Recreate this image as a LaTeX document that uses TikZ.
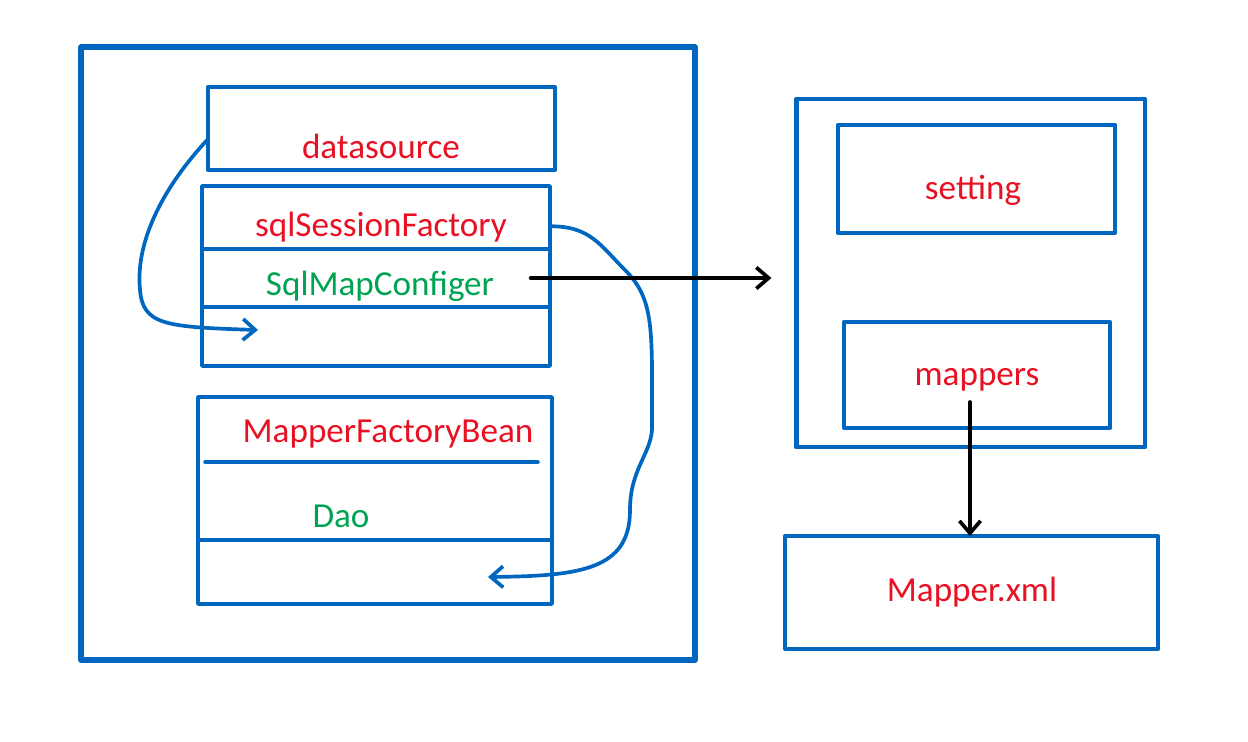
\documentclass[tikz,border=0pt]{standalone}
\usepackage{fontspec}
\setmainfont{Carlito}
\usetikzlibrary{positioning,arrows.meta}

\definecolor{msblue}{RGB}{0,103,192}
\definecolor{msred}{RGB}{232,17,35}
\definecolor{msgreen}{RGB}{0,163,82}

\tikzset{
  box/.style={draw=msblue, line width=2.4pt, inner sep=0pt, outer sep=0pt,
              line join=round},
  rowbox/.style={box, line width=2.1pt, minimum width=6.96cm},
  redtxt/.style={msred, font=\fontsize{20}{24}\selectfont},
  greentxt/.style={msgreen, font=\fontsize{20}{24}\selectfont},
  flow/.style={->, msblue, line width=2.1pt},
  call/.style={->, black, line width=2.1pt}
}

\begin{document}
\begin{tikzpicture}[>={Straight Barb[length=7pt,width=12pt]}, x=0.02cm, y=-0.02cm,
                    line cap=round]
\useasboundingbox (0,0) rectangle (1248,741);

% spring container
\node[box, line width=3.4pt, minimum width=12.28cm, minimum height=12.26cm] (spring) at (388,353.5) {};
\node[box, minimum width=6.94cm, minimum height=1.66cm] (ds) at (381.5,128.5) {};
\node[redtxt] (dslbl) at (381,146) {datasource};

% sqlSessionFactory
\node[rowbox, minimum height=1.26cm] (sf) at (376,217.5) {};
\node[rowbox, minimum height=1.16cm, below=0pt of sf] (smc) {};
\node[rowbox, minimum height=1.18cm, below=0pt of smc] (sfx) {};
\node[redtxt] (sflbl) at (381,227) {sqlSessionFactory};
\node[greentxt] (smclbl) at (380,286) {SqlMapConfiger};

% MapperFactoryBean
\node[box, line width=2.1pt, minimum width=7.08cm, minimum height=4.14cm] (mfb) at (375,500.5) {};
\node[minimum width=7.08cm, minimum height=1.3cm, inner sep=0pt, outer sep=0pt,
      below=0pt of mfb.north] (mfbhead) {};
\node[minimum width=7.08cm, minimum height=1.28cm, inner sep=0pt, outer sep=0pt,
      above=0pt of mfb.south] (mfbx) {};
\draw[msblue, line width=2.1pt] ([xshift=4pt]mfbhead.south west) -- ([xshift=-8pt]mfbhead.south east);
\draw[msblue, line width=2.1pt] (mfbx.north west) -- (mfbx.north east);
\node[redtxt] (mfblbl) at (388,434) {MapperFactoryBean};
\node[greentxt] (daolbl) at (341,516) {Dao};

% configuration
\node[box, line width=2.8pt, minimum width=6.98cm, minimum height=6.96cm] (cfg) at (970.5,273) {};
\node[box, minimum width=5.54cm, minimum height=2.16cm] (set) at (976.5,179) {};
\node[redtxt] (setlbl) at (973,190) {setting};
\node[box, minimum width=5.32cm, minimum height=2.12cm] (mp) at (977,375) {};
\node[redtxt] (mplbl) at (977,380) {mappers};

% Mapper.xml
\node[box, minimum width=7.46cm, minimum height=2.26cm] (mx) at (971.5,592.5) {};
\node[redtxt] (mxlbl) at (972,592) {Mapper.xml};

% free ends
\coordinate (dsin) at (258,330);
\coordinate (mfbin) at (488,577);
\coordinate (mpout) at (970,402);

% arrows
\draw[flow] ([yshift=-6pt]ds.west) .. controls (165,185) and (135,240) .. (140,290)
  .. controls (143,325) and (165,327) .. (dsin);
\draw[flow] ([yshift=-5pt]sf.east) .. controls (590,226) and (600,245) .. (625,270)
  .. controls (655,300) and (652,330) .. (652,430)
  .. controls (650,455) and (630,470) .. (630,510)
  .. controls (630,570) and (580,576) .. (mfbin);
\draw[call, shorten >=14pt] ([xshift=-11pt]smc.east) -- (smc.east -| cfg.west);
\draw[call] (mpout) -- (mpout |- mx.north);

\end{tikzpicture}
\end{document}
